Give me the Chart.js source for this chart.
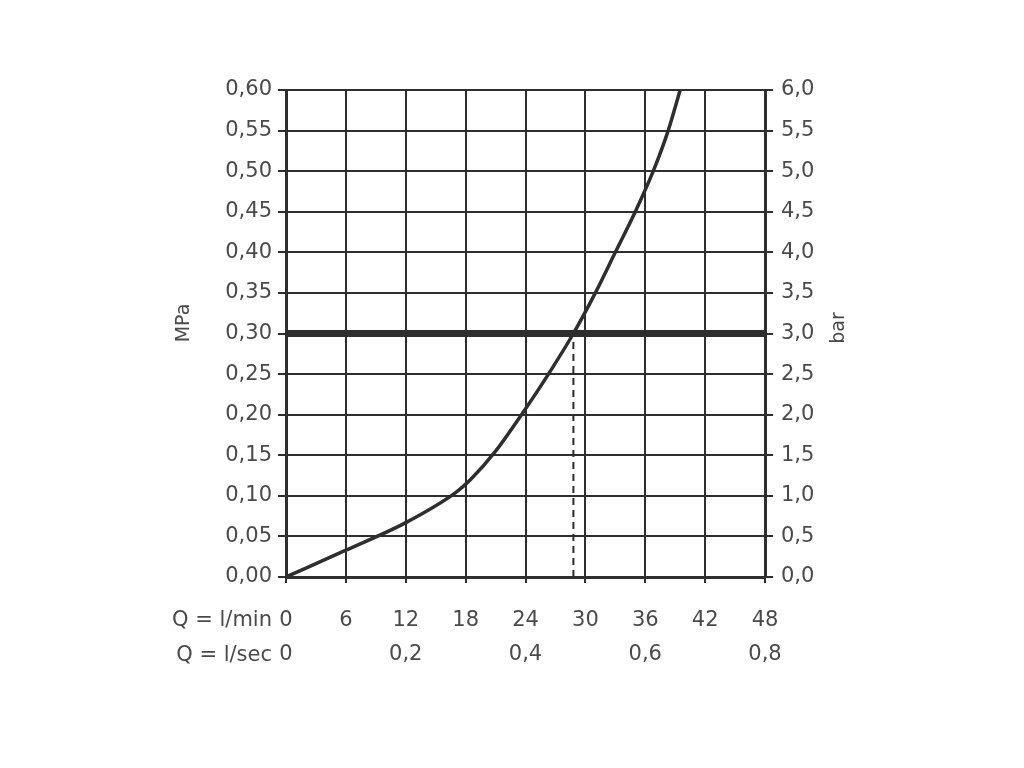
<!DOCTYPE html>
<html>
<head>
<meta charset="utf-8">
<script src="https://cdn.jsdelivr.net/npm/chart.js@4.4.0/dist/chart.umd.min.js"></script>
<style>
  html, body { margin: 0; padding: 0; background: #fff; }
  #wrap { width: 1024px; height: 768px; }
</style>
</head>
<body>
<div id="wrap"><canvas id="flow-chart" width="1024" height="768"></canvas></div>
<script>
// flow in l/min and pressure in MPa
var flowLmin = [0, 6, 12, 17, 18.5, 21, 23.6, 26.3, 28.8, 31.0, 33.0, 35.0, 36.8, 38.3, 39.5];
var pressureMPa = [0, 0.033, 0.067, 0.104, 0.120, 0.155, 0.200, 0.250, 0.300, 0.350, 0.400, 0.450, 0.500, 0.550, 0.600];

// the bold reference pressure and the flow it gives
var refPressure = 0.30;
var refFlow = 28.8;

// bottom tick labels
var lminTicks = [0, 6, 12, 18, 24, 30, 36, 42, 48];
var lsecLabels = ['0', '', '0,2', '', '0,4', '', '0,6', '', '0,8'];

var txtColor = '#4a4a4a';
var lineColor = '#2e2e2e';
var fontFam = '"DejaVu Sans", sans-serif';

function comma(v, d) { return v.toFixed(d).replace('.', ','); }

var curve = [];
for (var i = 0; i < flowLmin.length; i++) {
  curve.push({x: flowLmin[i], y: pressureMPa[i]});
}

// draws the row captions and the rotated axis titles
var captions = {
  id: 'captions',
  afterDraw: function(chart) {
    var ctx = chart.ctx;
    var area = chart.chartArea;
    ctx.save();
    ctx.fillStyle = txtColor;
    ctx.font = '21px ' + fontFam;
    ctx.textAlign = 'right';
    ctx.textBaseline = 'middle';
    ctx.fillText('Q = l/min', 272, area.bottom + 44);
    ctx.fillText('Q = l/sec', 272, area.bottom + 79);

    ctx.textAlign = 'center';
    ctx.font = '19px ' + fontFam;
    ctx.translate(184, 323);
    ctx.rotate(-Math.PI / 2);
    ctx.fillText('MPa', 0, 0);
    ctx.restore();

    ctx.save();
    ctx.fillStyle = txtColor;
    ctx.font = '19px ' + fontFam;
    ctx.textAlign = 'center';
    ctx.textBaseline = 'middle';
    ctx.translate(839, 328);
    ctx.rotate(-Math.PI / 2);
    ctx.fillText('bar', 0, 0);
    ctx.restore();
  }
};

new Chart(document.getElementById('flow-chart'), {
  type: 'scatter',
  data: {
    datasets: [
      {
        data: [{x: 0, y: refPressure}, {x: 48, y: refPressure}],
        showLine: true, borderColor: lineColor, borderWidth: 7,
        pointRadius: 0, yAxisID: 'y'
      },
      {
        data: [{x: refFlow, y: 0}, {x: refFlow, y: refPressure}],
        showLine: true, borderColor: lineColor, borderWidth: 2,
        borderDash: [7, 5], pointRadius: 0, yAxisID: 'y'
      },
      {
        data: curve,
        showLine: true, borderColor: lineColor, borderWidth: 3.5,
        cubicInterpolationMode: 'monotone', pointRadius: 0, yAxisID: 'y'
      }
    ]
  },
  options: {
    responsive: false,
    animation: false,
    layout: { padding: { left: 150, right: 159, top: 90, bottom: 91 } },
    plugins: { legend: { display: false }, tooltip: { enabled: false } },
    scales: {
      x: {
        type: 'linear', min: 0, max: 48,
        afterFit: function(s) { s.height = 100; },
        afterBuildTicks: function(s) {
          s.ticks = lminTicks.map(function(v) { return {value: v}; });
        },
        grid: { color: lineColor, lineWidth: 2, tickLength: 6 },
        border: { color: lineColor, width: 3 },
        ticks: {
          color: txtColor, maxRotation: 0, padding: 20,
          font: { family: fontFam, size: 21, lineHeight: 1.65 },
          callback: function(v) {
            var k = lminTicks.indexOf(v);
            return [String(v), lsecLabels[k]];
          }
        }
      },
      y: {
        type: 'linear', position: 'left', min: 0, max: 0.6,
        afterFit: function(s) { s.width = 136; },
        grid: { color: lineColor, lineWidth: 2, tickLength: 8 },
        border: { color: lineColor, width: 3 },
        ticks: {
          stepSize: 0.05, color: txtColor, padding: 6,
          font: { family: fontFam, size: 21 },
          callback: function(v) { return comma(v, 2); }
        }
      },
      y2: {
        type: 'linear', position: 'right', min: 0, max: 6,
        afterFit: function(s) { s.width = 100; },
        grid: { drawOnChartArea: false, color: lineColor, lineWidth: 2, tickLength: 8 },
        border: { color: lineColor, width: 3 },
        ticks: {
          stepSize: 0.5, color: txtColor, padding: 8,
          font: { family: fontFam, size: 21 },
          callback: function(v) { return comma(v, 1); }
        }
      }
    }
  },
  plugins: [captions]
});
</script>
</body>
</html>
